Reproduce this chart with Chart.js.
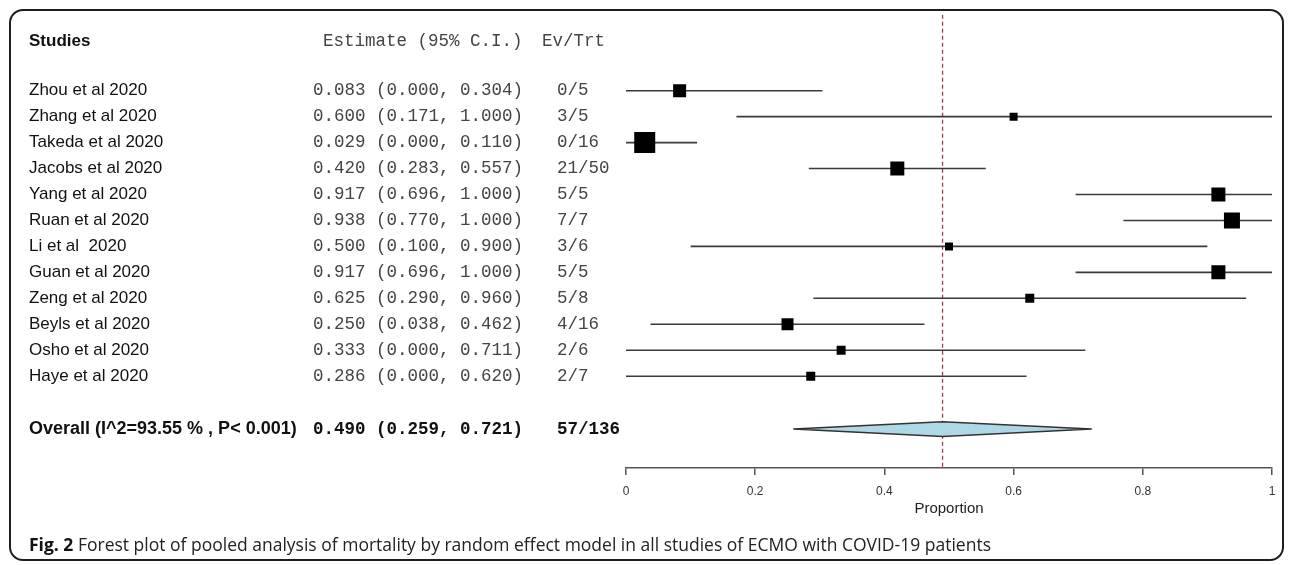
<!DOCTYPE html>
<html>
<head>
<meta charset="utf-8">
<script src="https://cdn.jsdelivr.net/npm/chart.js@4.4.0/dist/chart.umd.min.js"></script>
<style>
  html, body { margin: 0; padding: 0; background: #fff; }
  #wrap { position: relative; width: 1292px; height: 565px; overflow: hidden; }
  #frame { position: absolute; left: 9px; top: 9px; width: 1271px; height: 548px;
           border: 2px solid #1e1e1e; border-radius: 14px; }
  #forest { position: absolute; left: 0; top: 0; }
  #caption { position: absolute; left: 29px; top: 532px; font-family: "Open Sans"; font-size: 17.5px;
             color: #222; white-space: nowrap; }
  #caption b { color: #111; }
</style>
</head>
<body>
<div id="wrap">
  <div id="frame"></div>
  <canvas id="forest" width="1292" height="565"></canvas>
  <div id="caption"><b>Fig. 2</b> Forest plot of pooled analysis of mortality by random effect model in all studies of ECMO with COVID-19 patients</div>
</div>
<script>
// study level data
const studies = ["Zhou et al 2020", "Zhang et al 2020", "Takeda et al 2020", "Jacobs et al 2020",
    "Yang et al 2020", "Ruan et al 2020", "Li et al  2020", "Guan et al 2020", "Zeng et al 2020",
    "Beyls et al 2020", "Osho et al 2020", "Haye et al 2020"];
const estimates = [0.083, 0.600, 0.029, 0.420, 0.917, 0.938, 0.500, 0.917, 0.625, 0.250, 0.333, 0.286];
const lower = [0.000, 0.171, 0.000, 0.283, 0.696, 0.770, 0.100, 0.696, 0.290, 0.038, 0.000, 0.000];
const upper = [0.304, 1.000, 0.110, 0.557, 1.000, 1.000, 0.900, 1.000, 0.960, 0.462, 0.711, 0.620];
const events = [0, 3, 0, 21, 5, 7, 3, 5, 5, 4, 2, 2];
const totals = [5, 5, 16, 50, 5, 7, 6, 5, 8, 16, 6, 7];
// relative box weights (estimated from the square sizes)
const weights = [6.5, 4, 10.5, 7, 7, 8, 4, 7, 4.5, 6, 4.5, 4.5];

const overallLabel = "Overall (I^2=93.55 % , P< 0.001)";
const overallEst = [0.490, 0.259, 0.721];
const overallCounts = [57, 136];
const xTicks = [0, 0.2, 0.4, 0.6, 0.8, 1];

const headerRow = -1.92;
const overallRow = 13.04;
const yMin = -2.923, yMax = 14.538;

function fmt(v) { return v.toFixed(3); }
function ciText(e, lo, hi) { return fmt(e) + " (" + fmt(lo) + ", " + fmt(hi) + ")"; }

const ciSets = studies.map(function (s, i) {
    return {
        type: 'line',
        data: [{x: lower[i], y: i}, {x: upper[i], y: i}],
        borderColor: '#3a3a3a',
        borderWidth: 1.6,
        pointRadius: 0,
        order: 3
    };
});

const boxes = {
    type: 'scatter',
    data: estimates.map(function (e, i) { return {x: e, y: i}; }),
    pointStyle: 'rect',
    pointRadius: weights.map(function (w) { return w * 2 / Math.SQRT2; }),
    backgroundColor: '#000',
    borderColor: '#000',
    borderWidth: 0,
    order: 1
};

const dh = 0.28;
const diamond = {
    type: 'line',
    data: [
        {x: overallEst[1], y: overallRow},
        {x: overallEst[0], y: overallRow - dh},
        {x: overallEst[2], y: overallRow},
        {x: overallEst[0], y: overallRow + dh},
        {x: overallEst[1], y: overallRow}
    ],
    borderColor: '#333',
    borderWidth: 1.5,
    backgroundColor: '#aed8e6',
    fill: 'shape',
    tension: 0,
    pointRadius: 0,
    order: 2
};

const refLine = {
    type: 'line',
    data: [{x: overallEst[0], y: yMin}, {x: overallEst[0], y: yMax}],
    borderColor: '#a03a46',
    borderWidth: 1.3,
    borderDash: [4, 3],
    pointRadius: 0,
    order: 4
};

const textColumns = {
    id: 'textColumns',
    afterDraw: function (chart) {
        const ctx = chart.ctx;
        const y = chart.scales.y;
        ctx.save();
        ctx.textBaseline = 'middle';
        ctx.textAlign = 'left';

        const hy = y.getPixelForValue(headerRow);
        ctx.fillStyle = '#111';
        ctx.font = 'bold 17px "Liberation Sans"';
        ctx.fillText("Studies", 29, hy);
        ctx.fillStyle = '#444';
        ctx.font = '17.5px "Liberation Mono"';
        ctx.fillText("Estimate (95% C.I.)", 323, hy);
        ctx.fillText("Ev/Trt", 542, hy);

        studies.forEach(function (s, i) {
            const py = y.getPixelForValue(i);
            ctx.fillStyle = '#111';
            ctx.font = '17px "Liberation Sans"';
            ctx.fillText(s, 29, py);
            ctx.fillStyle = '#444';
            ctx.font = '17.5px "Liberation Mono"';
            ctx.fillText(ciText(estimates[i], lower[i], upper[i]), 313, py);
            ctx.fillText(events[i] + "/" + totals[i], 557, py);
        });

        const oy = y.getPixelForValue(overallRow);
        ctx.fillStyle = '#111';
        ctx.font = 'bold 18px "Liberation Sans"';
        ctx.fillText(overallLabel, 29, oy);
        ctx.font = 'bold 17.5px "Liberation Mono"';
        ctx.fillText(ciText(overallEst[0], overallEst[1], overallEst[2]), 313, oy);
        ctx.fillText(overallCounts[0] + "/" + overallCounts[1], 557, oy);
        ctx.restore();
    }
};

const ctx = document.getElementById('forest').getContext('2d');
const forest = new Chart(ctx, {
    type: 'scatter',
    data: {datasets: [refLine].concat(ciSets, [diamond, boxes])},
    options: {
        responsive: false,
        animation: false,
        layout: {padding: {left: 626, right: 20, top: 14, bottom: 47}},
        plugins: {legend: {display: false}, tooltip: {enabled: false}},
        scales: {
            x: {
                type: 'linear',
                min: 0,
                max: 1,
                afterBuildTicks: function (axis) {
                    axis.ticks = xTicks.map(function (v) { return {value: v}; });
                },
                grid: {drawOnChartArea: false, drawTicks: true, tickLength: 7, color: '#555', lineWidth: 1.5},
                border: {display: true, color: '#555', width: 1.5},
                ticks: {padding: 9, color: '#333', maxRotation: 0,
                        font: {family: 'Liberation Sans', size: 12},
                        callback: function (v) { return String(+v.toFixed(1)); }},
                title: {display: true, text: 'Proportion', color: '#222',
                        font: {family: 'Liberation Sans', size: 15}, padding: {top: 0, bottom: 0}},
                afterFit: function (axis) { axis.height = 50; }
            },
            y: {
                type: 'linear',
                display: false,
                reverse: true,
                min: yMin,
                max: yMax
            }
        }
    },
    plugins: [textColumns]
});
</script>
</body>
</html>
